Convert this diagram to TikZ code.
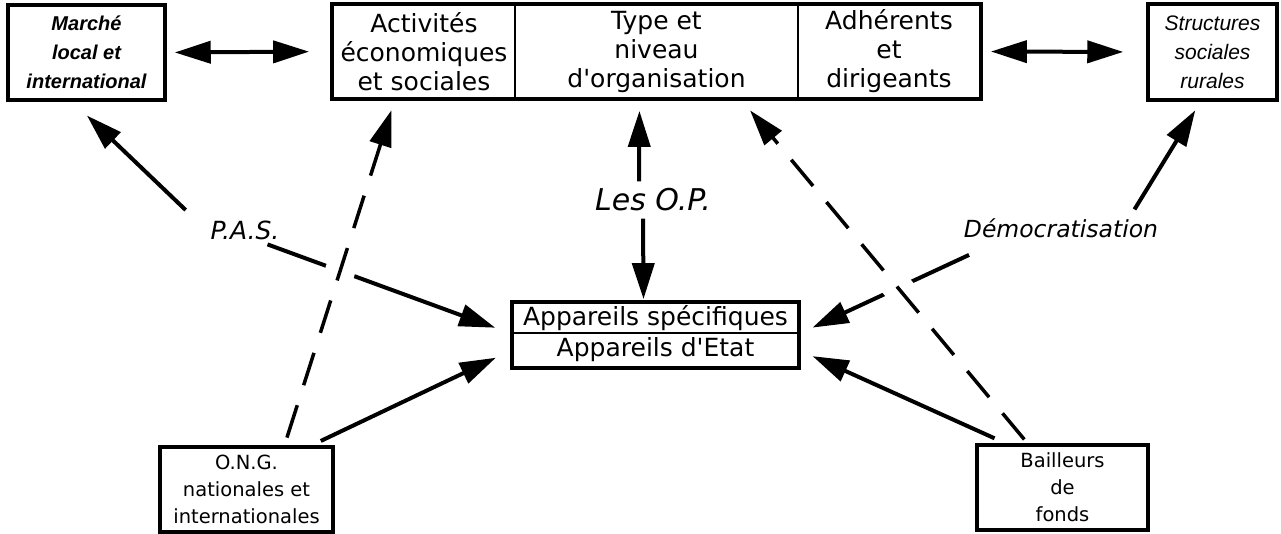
\documentclass[tikz,border=0pt]{standalone}
\usepackage{fontspec}
\setmainfont{DejaVu Sans}
\newfontfamily\arialfont{Liberation Sans}
\usetikzlibrary{arrows.meta,backgrounds}
\tikzset{
  box/.style={draw, line width=3.5pt, inner sep=0pt, align=center},
  cell/.style={draw, line width=1.8pt, inner sep=0pt, align=center},
  arr/.style={line width=4pt, -{Triangle[length=36pt,width=22pt]}},
  dblarr/.style={line width=4pt, {Triangle[length=36pt,width=22pt]}-{Triangle[length=36pt,width=22pt]}},
  dasharr/.style={arr, line width=3.5pt, dash pattern=on 34pt off 21pt,
    preaction={draw=white, line width=30pt, -, solid}},
  lbl/.style={inner sep=2pt},
}

\begin{document}
\begin{tikzpicture}[x=1pt, y=-1pt]
    \useasboundingbox (0,0) rectangle (1281,533);

    % Boxes of the upper row
    \node[box, minimum width=157, minimum height=95, font=\arialfont\fontsize{20}{29}\selectfont\bfseries\itshape]
      (marche) at (86.5,52.5) {Marché\\local et\\international};
    \node[cell, minimum width=182, minimum height=93, font=\fontsize{25}{29}\selectfont]
      (activ) at (424,51.5) {Activités\\économiques\\et sociales};
    \node[cell, minimum width=283, minimum height=93, font=\fontsize{25}{29}\selectfont]
      (type) at (656.5,51.5) {Type et\\niveau\\d\textquotesingle organisation};
    \node[cell, minimum width=182, minimum height=93, font=\fontsize{25}{29}\selectfont]
      (adher) at (889,51.5) {Adhérents\\et\\dirigeants};
    \draw[line width=3.5pt] (activ.north west) rectangle (adher.south east);
    \node[box, minimum width=129, minimum height=96, font=\arialfont\fontsize{21}{29}\selectfont\itshape]
      (struct) at (1212.5,52) {Structures\\sociales\\rurales};

    % The central box
    \node[cell, minimum width=285, minimum height=30, font=\fontsize{25}{28}\selectfont]
      (spec) at (655.5,318) {Appareils spécifiques};
    \node[cell, minimum width=285, minimum height=34, font=\fontsize{25}{28}\selectfont]
      (etat) at (655.5,350) {Appareils d\textquotesingle Etat};
    \draw[line width=3.5pt] (spec.north west) rectangle (etat.south east);

    % Boxes of the lower row
    \node[box, minimum width=173, minimum height=85, font=\fontsize{19.5}{27}\selectfont]
      (ong) at (246.5,489.5) {O.N.G.\\nationales et\\internationales};
    \node[box, minimum width=171, minimum height=85, font=\fontsize{19.5}{27}\selectfont]
      (bail) at (1062.5,487.5) {Bailleurs\\de\\fonds};

    % Labels
    \node[lbl, font=\fontsize{30}{34}\selectfont\itshape] (op) at (653,200) {Les O.P.};
    \node[lbl, font=\fontsize{25}{28}\selectfont\itshape] (pas) at (245,230) {P.A.S.};
    \node[lbl, font=\fontsize{23.5}{27}\selectfont\itshape] (demo) at (1061,228) {Démocratisation};

    \begin{pgfonlayer}{background}
    % Solid lines that are cut by the dashed ones
    \draw[arr, shorten <=12pt, shorten >=20pt] ([xshift=-14pt]pas.north west) -- ([xshift=-14pt]marche.south);
    \draw[arr, shorten <=8pt, shorten >=18pt] ([xshift=15pt]pas.south) -- (spec.south west);
    \draw[arr, shorten <=8pt, shorten >=10pt] ([xshift=-30pt]demo.north east) -- ([xshift=-12pt]struct.south);
    \draw[arr, shorten <=36pt, shorten >=15pt] ([xshift=40pt]demo.south west) -- (spec.south east);

    % Dashed lines
    \draw[dasharr, shorten <=8pt, shorten >=12pt] ([xshift=38pt]ong.north) -- ([xshift=-29pt]activ.south);
    \draw[dasharr, shorten <=5pt, shorten >=15pt] ([xshift=-35pt]bail.north) -- ([xshift=84pt]type.south);

    % Other arrows
    \draw[dblarr, shorten <=8pt, shorten >=23pt] (marche.east) -- (activ.west);
    \draw[dblarr, shorten <=10pt, shorten >=23pt] (adher.east) -- (struct.west);
    \draw[arr, shorten <=5pt, shorten >=12pt] ([xshift=-14pt]op.north) -- ([xshift=-17pt]type.south);
    \draw[arr, shorten <=5pt, shorten >=3pt] ([xshift=-10pt]op.south) -- ([xshift=-12pt]spec.north);
    \draw[arr, shorten <=10pt, shorten >=18pt] ([xshift=-23pt]ong.north east) -- (etat.west);
    \draw[arr, shorten <=12pt, shorten >=15pt] ([xshift=-57pt]bail.north) -- (etat.east);
    \end{pgfonlayer}
\end{tikzpicture}
\end{document}
